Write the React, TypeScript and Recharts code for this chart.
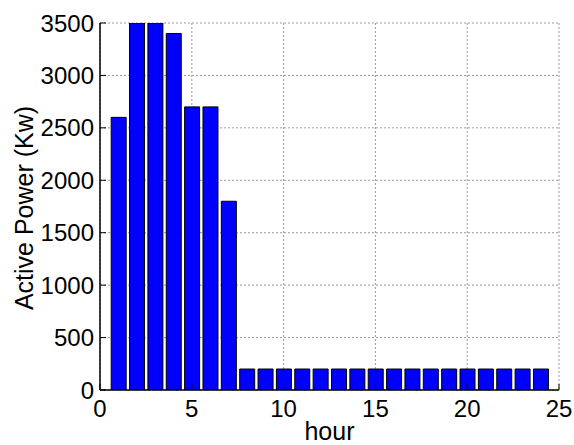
import { Bar, BarChart, CartesianGrid, XAxis, YAxis } from 'recharts';

const hours = [1, 2, 3, 4, 5, 6, 7, 8, 9, 10, 11, 12, 13, 14, 15, 16, 17, 18, 19, 20, 21, 22, 23, 24];
const power = [
  2600, 3500, 3500, 3400, 2700, 2700, 1800, 200, 200, 200, 200, 200,
  200, 200, 200, 200, 200, 200, 200, 200, 200, 200, 200, 200,
];
const xTicks = [0, 5, 10, 15, 20, 25];
const yTicks = [0, 500, 1000, 1500, 2000, 2500, 3000, 3500];

const data = hours.map((h, i) => ({ hour: h, power: power[i] }));

const FONT = "'Liberation Sans', Arial, sans-serif";
const tickStyle = { fontSize: 24, fill: '#000', fontFamily: FONT };

function YTitle() {
  return (
    <text
      x={24}
      y={208}
      transform="rotate(-90 24 208)"
      textAnchor="middle"
      dominantBaseline="central"
      fontSize={25}
      fontFamily={FONT}
      fill="#000"
    >
      Active Power (Kw)
    </text>
  );
}

export default function App() {
  return (
    <div style={{ position: 'absolute', left: 0, top: 0, width: 574, height: 445, background: '#fff' }}>
      <BarChart
        width={574}
        height={445}
        data={data}
        margin={{ top: 23, right: 15, bottom: 0, left: 0 }}
      >
        <CartesianGrid stroke="#9a9a9a" strokeDasharray="2 2" strokeWidth={1} />
        <XAxis
          dataKey="hour"
          type="number"
          domain={[0, 25]}
          ticks={xTicks}
          allowDataOverflow
          height={55}
          tickSize={-6}
          tickMargin={16}
          tick={tickStyle}
          stroke="#000"
          axisLine={{ stroke: '#000', strokeWidth: 1.5 }}
          tickLine={{ stroke: '#000' }}
          label={{ value: 'hour', position: 'insideBottom', offset: 5, fontSize: 25, fill: '#000', fontFamily: FONT }}
        />
        <XAxis
          xAxisId="top"
          orientation="top"
          type="number"
          domain={[0, 25]}
          ticks={xTicks}
          allowDataOverflow
          height={0}
          mirror
          tick={false}
          tickSize={6}
          axisLine={{ stroke: '#000', strokeWidth: 1.5 }}
          tickLine={{ stroke: '#000' }}
        />
        <YAxis
          type="number"
          domain={[0, 3500]}
          ticks={yTicks}
          allowDataOverflow
          width={100}
          tickSize={-6}
          tickMargin={12}
          tick={tickStyle}
          axisLine={{ stroke: '#000', strokeWidth: 1.5 }}
          tickLine={{ stroke: '#000' }}
          label={{ content: () => <YTitle /> }}
        />
        <YAxis
          yAxisId="right"
          orientation="right"
          type="number"
          domain={[0, 3500]}
          ticks={yTicks}
          allowDataOverflow
          width={0}
          mirror
          tick={false}
          tickSize={6}
          axisLine={{ stroke: '#000', strokeWidth: 1.5 }}
          tickLine={{ stroke: '#000' }}
        />
        <Bar dataKey="power" fill="#0000ff" stroke="#000" strokeWidth={1} barSize={15} isAnimationActive={false} />
      </BarChart>
    </div>
  );
}
